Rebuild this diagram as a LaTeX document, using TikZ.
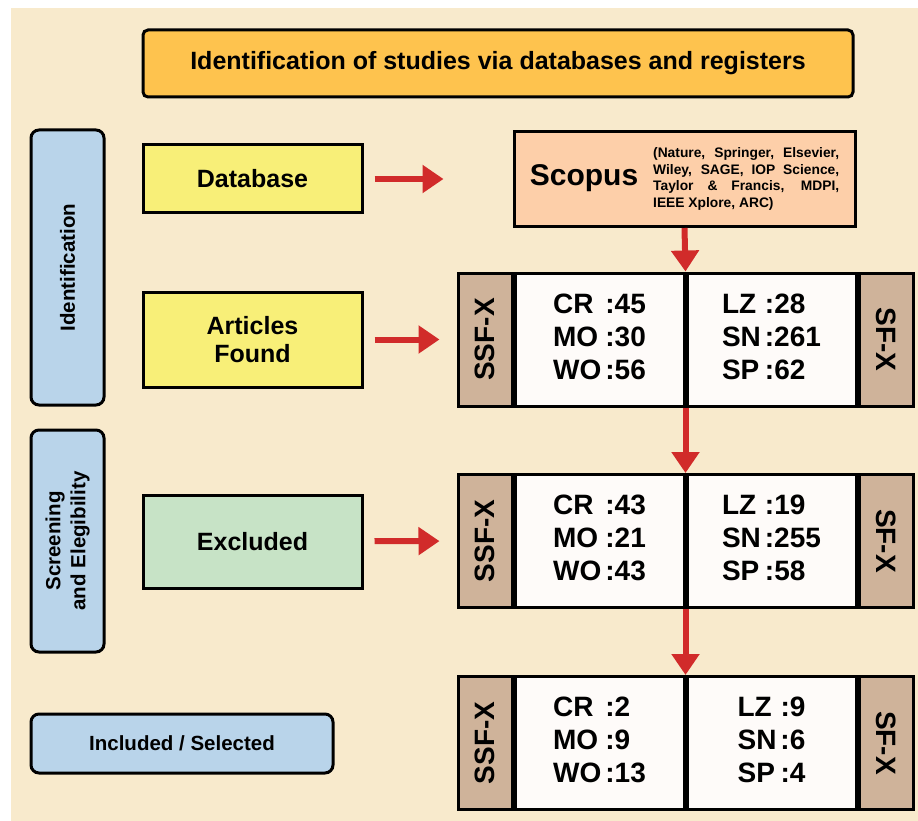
\documentclass[tikz,border=0pt]{standalone}
\usepackage{fontspec}
\setmainfont{Liberation Sans}
\usetikzlibrary{arrows.meta,positioning}

\definecolor{bgbeige}{HTML}{F8EACC}
\definecolor{titleorange}{HTML}{FEC34E}
\definecolor{phaseblue}{HTML}{B9D4EA}
\definecolor{srcyellow}{HTML}{F8EF78}
\definecolor{exclgreen}{HTML}{C7E3C6}
\definecolor{scopussalmon}{HTML}{FDCFA9}
\definecolor{tabtan}{HTML}{CFB39A}
\definecolor{cellwhite}{HTML}{FEFBF9}
\definecolor{flowred}{HTML}{D12B2A}

\newcommand{\fs}[2]{\fontsize{#1}{#2}\selectfont\bfseries}
\newcommand{\stat}[3]{\begin{tabular}{@{}l@{\hspace{4pt}}l@{}}#1\\#2\\#3\end{tabular}}

\begin{document}
\begin{tikzpicture}[
	x=1pt, y=-1pt,
	every node/.style={text=black},
	title/.style={draw, line width=3pt, rounded corners=5pt, fill=titleorange, minimum width=710pt, minimum height=67pt, font=\fs{25}{30}},
	phase/.style={draw, line width=3pt, rounded corners=8pt, fill=phaseblue, align=center},
	phasetext/.style={align=center, font=\fs{20.5}{25}},
	srcbox/.style={draw, line width=3pt, minimum width=219pt, align=center, font=\fs{25}{28}},
	tabbox/.style={draw, line width=3pt, fill=tabtan, minimum width=54pt, minimum height=133pt, inner sep=0pt, font=\fs{28}{30}},
	cell/.style={draw, line width=3pt, fill=cellwhite, minimum width=169pt, minimum height=133pt, inner sep=0pt, font=\fs{28}{33}},
	flow/.style={-{Triangle[length=21pt,width=27pt]}, color=flowred, line width=6pt}
	]
	
	%--- canvas ---
	\useasboundingbox (0,0) rectangle (918,821);
	\fill[bgbeige] (11,8) rectangle (918,821);
	
	%--- heading ---
	\node[title] (head) at (498,63.5) {Identification of studies via databases and registers};
	
	%--- phases on the left ---
	\node[phase, minimum width=73pt, minimum height=275pt] (ident) at (67.5,267.5) {};
	\node[phasetext, rotate=90] (identlbl) at (ident) {Identification};
	\node[phase, minimum width=73pt, minimum height=222pt] (screen) at (67.5,541) {};
	\node[phasetext, rotate=90] (screenlbl) at (screen) {Screening\\and Elegibility};
	\node[phase, phasetext, minimum width=302pt, minimum height=59pt] (incl) at (182,743.5) {Included / Selected};
	
	%--- source boxes ---
	\node[srcbox, fill=srcyellow, minimum height=68pt] (db) at (252.5,179) {Database};
	\node[srcbox, fill=srcyellow, minimum height=95pt] (art) at (252.5,339.5) {Articles\\Found};
	\node[srcbox, fill=exclgreen, minimum height=93pt] (excl) at (252.5,541.5) {Excluded};
	
	\node[draw, line width=3pt, fill=scopussalmon, minimum width=341pt, minimum height=95pt] (scopus) at (684.5,179)
	{\fs{30}{36}Scopus\hspace{15pt}\parbox[c]{186pt}{\fs{13.8}{16.7}%
			\makebox[186pt][s]{(Nature, Springer, Elsevier,}\\
			\makebox[186pt][s]{Wiley, SAGE, IOP Science,}\\
			\makebox[186pt][s]{Taylor \& Francis, MDPI,}\\
			IEEE Xplore, ARC)}};
	
	%--- counts ---
	\node[cell] (lftA) at (599.5,339.5) {\stat{CR & :45}{MO & :30}{WO & :56}};
	\node[cell, right=0pt of lftA] (rgtA) {\stat{LZ & :28}{SN & :261}{SP & :62}};
	\node[tabbox, left=0pt of lftA] (ssfA) {\rotatebox{90}{SSF-X}};
	\node[tabbox, right=0pt of rgtA] (sfA) {\rotatebox{-90}{SF-X}};
	
	\node[cell] (lftB) at (599.5,541) {\stat{CR & :43}{MO & :21}{WO & :43}};
	\node[cell, right=0pt of lftB] (rgtB) {\stat{LZ & :19}{SN & :255}{SP & :58}};
	\node[tabbox, left=0pt of lftB] (ssfB) {\rotatebox{90}{SSF-X}};
	\node[tabbox, right=0pt of rgtB] (sfB) {\rotatebox{-90}{SF-X}};
	
	\node[cell] (lftC) at (599.5,743) {\stat{CR & :2}{MO & :9}{WO & :13}};
	\node[cell, right=0pt of lftC] (rgtC) {\stat{LZ & :9}{SN & :6}{SP & :4}};
	\node[tabbox, left=0pt of lftC] (ssfC) {\rotatebox{90}{SSF-X}};
	\node[tabbox, right=0pt of rgtC] (sfC) {\rotatebox{-90}{SF-X}};
	
	%--- arrows ---
	\draw[flow, shorten <=11pt, shorten >=69pt] (db) -- (scopus);
	\draw[flow, shorten <=11pt, shorten >=17pt] (art) -- (ssfA);
	\draw[flow, shorten <=11pt, shorten >=17pt] (excl) -- (ssfB);
	
	\draw[flow] (scopus.south) -- (lftA.north east);
	\draw[flow] (lftA.south east) -- (lftB.north east);
	\draw[flow] (lftB.south east) -- (lftC.north east);
	
\end{tikzpicture}
\end{document}
